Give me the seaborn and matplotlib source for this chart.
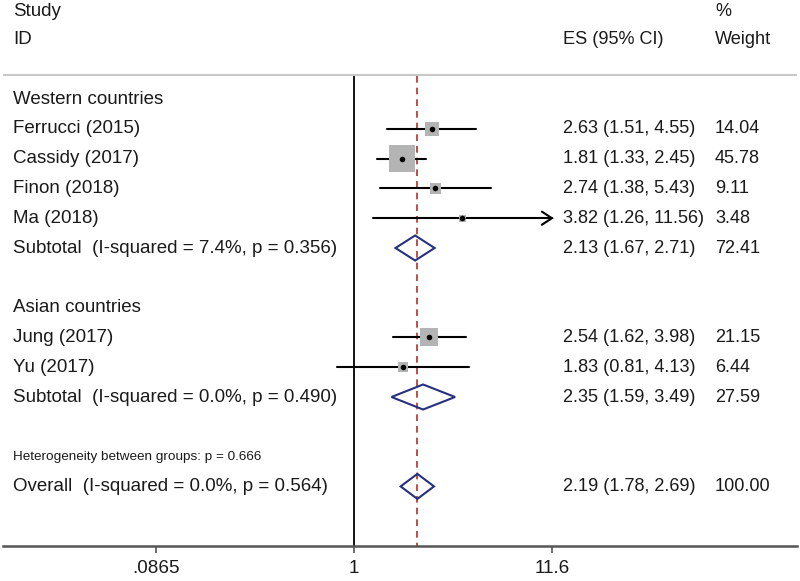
import numpy as np
import matplotlib
matplotlib.use("Agg")
import matplotlib.pyplot as plt
import matplotlib.transforms as mtrans
from matplotlib.ticker import FixedLocator, FixedFormatter, NullLocator
import seaborn as sns

# study level data
studies = ["Ferrucci (2015)", "Cassidy (2017)", "Finon (2018)", "Ma (2018)",
           "Jung (2017)", "Yu (2017)"]
groups = ["Western", "Western", "Western", "Western", "Asian", "Asian"]
es = [2.63, 1.81, 2.74, 3.82, 2.54, 1.83]
lo = [1.51, 1.33, 1.38, 1.26, 1.62, 0.81]
hi = [4.55, 2.45, 5.43, 11.56, 3.98, 4.13]
weight = [14.04, 45.78, 9.11, 3.48, 21.15, 6.44]

# pooled estimates (subtotals + overall)
pooled_labels = ["Subtotal  (I-squared = 7.4%, p = 0.356)",
                 "Subtotal  (I-squared = 0.0%, p = 0.490)",
                 "Overall  (I-squared = 0.0%, p = 0.564)"]
pooled_es = [2.13, 2.35, 2.19]
pooled_lo = [1.67, 1.59, 1.78]
pooled_hi = [2.71, 3.49, 2.69]
pooled_weight = [72.41, 27.59, 100.00]

group_titles = ["Western countries", "Asian countries"]
het_text = "Heterogeneity between groups: p = 0.666"

# axis runs symmetric on log scale: 1/11.56 .. 11.56
tick_vals = [1 / 11.56, 1, 11.56]
tick_labels = [".0865", "1", "11.6"]

# row layout (row 0 = first group title)
study_rows = [1, 2, 3, 4, 8, 9]
pooled_rows = [5, 10, 13]
title_rows = [0, 7]
het_row = 12

sns.set_theme(style="white")
plt.rcParams["font.family"] = ["Liberation Sans", "DejaVu Sans"]

txt = "#1a1a1a"
fig = plt.figure(figsize=(8, 5.81), dpi=100)
ax = fig.add_axes([3 / 800, 35 / 581, 794 / 800, 546 / 581])
ax.set_xscale("log")
ax.set_xlim(np.exp(-351 / 80.85), np.exp(443 / 80.85))
ax.set_ylim(15, -99 / 29.8)

# null line and overall effect line
ax.plot([1, 1], [-0.77, 15], color="black", lw=1.3)
ax.plot([pooled_es[-1]] * 2, [-0.77, 15], color="#b0302c", lw=1.2,
        ls=(0, (4, 3)))

# header separator
ax.plot([0, 1], [-0.81, -0.81], color="#c8c8c8", lw=1.5,
        transform=mtrans.blended_transform_factory(ax.transAxes, ax.transData))

# confidence intervals (clipped at axis max with an open arrow head)
xmax = tick_vals[-1]
for r, l, h in zip(study_rows, lo, hi):
    if h >= xmax:
        ax.plot([l, xmax], [r, r], color="black", lw=1.5)
        f = np.exp(10 / 80.85)
        ax.plot([xmax / f, xmax, xmax / f], [r - 0.22, r, r + 0.22],
                color="black", lw=1.5, solid_joinstyle="miter")
    else:
        ax.plot([l, h], [r, r], color="black", lw=1.5)

# weight boxes
sns.scatterplot(x=es, y=study_rows, size=weight, sizes=(0, 360),
                size_norm=(0, max(weight)), marker="s", color="#b4b4b4",
                linewidth=0, legend=False, ax=ax, zorder=3)
ax.scatter(es, study_rows, s=16, color="black", zorder=4, linewidth=0)

# diamonds
hh = 0.42
for r, e, l, h in zip(pooled_rows, pooled_es, pooled_lo, pooled_hi):
    ax.fill([l, e, h, e, l], [r, r - hh, r, r + hh, r], facecolor="none",
            edgecolor="#27307f", lw=1.5, zorder=5)

# text columns
tr = mtrans.blended_transform_factory(ax.transAxes, ax.transData)
x_lab, x_es, x_w = 10 / 794, 560 / 794, 712 / 794
fl = 13.5   # left labels
fc = 13.1   # numeric columns

ax.text(x_lab, -2.92, "Study", transform=tr, fontsize=fl, va="center", color=txt)
ax.text(x_lab, -1.98, "ID", transform=tr, fontsize=fl, va="center", color=txt)
ax.text(x_es, -1.98, "ES (95% CI)", transform=tr, fontsize=fc, va="center", color=txt)
ax.text(x_w, -2.92, "%", transform=tr, fontsize=fc, va="center", color=txt)
ax.text(x_w, -1.98, "Weight", transform=tr, fontsize=fc, va="center", color=txt)

for r, t in zip(title_rows, group_titles):
    ax.text(x_lab, r, t, transform=tr, fontsize=fl, va="center", color=txt)

for r, s, e, l, h, w in zip(study_rows, studies, es, lo, hi, weight):
    ax.text(x_lab, r, s, transform=tr, fontsize=fl, va="center", color=txt)
    ax.text(x_es, r, f"{e:.2f} ({l:.2f}, {h:.2f})", transform=tr,
            fontsize=fc, va="center", color=txt)
    ax.text(x_w, r, f"{w:.2f}", transform=tr, fontsize=fc, va="center", color=txt)

for r, s, e, l, h, w in zip(pooled_rows, pooled_labels, pooled_es, pooled_lo,
                            pooled_hi, pooled_weight):
    ax.text(x_lab, r, s, transform=tr, fontsize=fl, va="center", color=txt)
    ax.text(x_es, r, f"{e:.2f} ({l:.2f}, {h:.2f})", transform=tr,
            fontsize=fc, va="center", color=txt)
    ax.text(x_w, r, f"{w:.2f}", transform=tr, fontsize=fc, va="center", color=txt)

ax.text(x_lab, het_row, het_text, transform=tr, fontsize=9.7, va="center", color=txt)

# axis styling
for side in ["top", "left", "right"]:
    ax.spines[side].set_visible(False)
ax.spines["bottom"].set_color("#555555")
ax.spines["bottom"].set_linewidth(1.8)
ax.xaxis.set_major_locator(FixedLocator(tick_vals))
ax.xaxis.set_major_formatter(FixedFormatter(tick_labels))
ax.xaxis.set_minor_locator(NullLocator())
ax.tick_params(axis="x", bottom=True, direction="out", length=5, width=1.2,
               color="#555555", labelsize=13.6, labelcolor=txt, pad=5)
ax.set_yticks([])

fig.savefig("out.png", dpi=100)
